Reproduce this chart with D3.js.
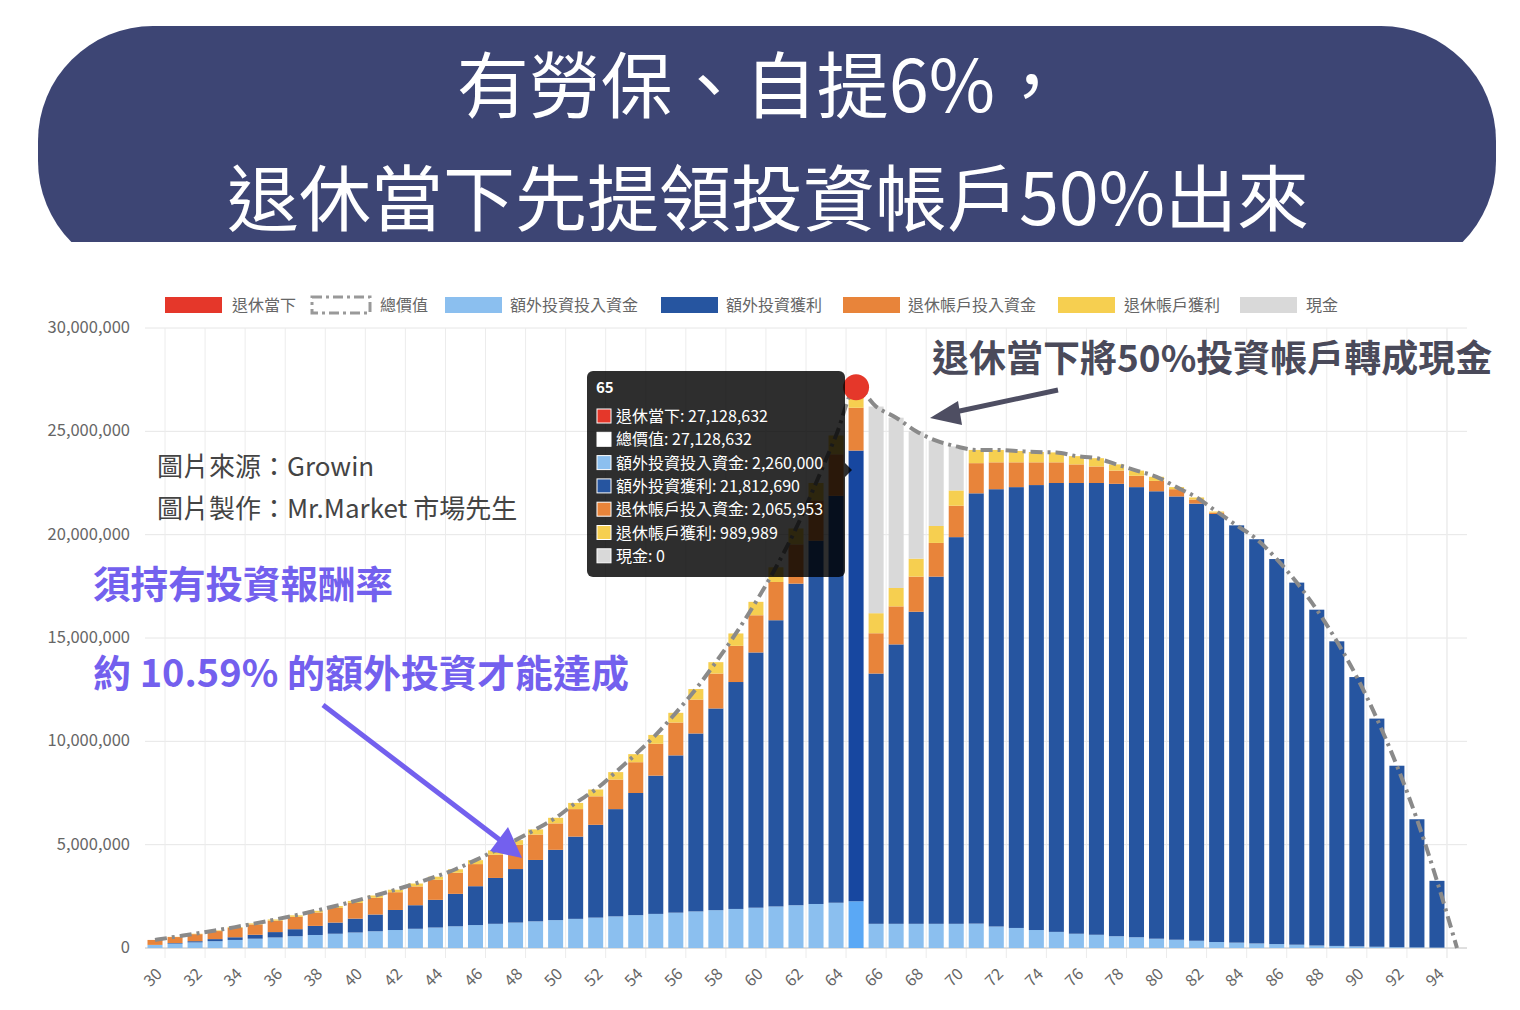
<!DOCTYPE html>
<html><head><meta charset="utf-8">
<script src="https://cdn.jsdelivr.net/npm/d3@7"></script>
<style>body{margin:0;background:#fff}svg{display:block}text{font-family:"Noto Sans CJK TC","Lato",sans-serif}</style>
</head><body><svg id="c" width="1520" height="1010"></svg>
<script>
const ages = d3.range(30, 96);
// values in millions
const extraPrincipal = [0.15,0.21,0.27,0.33,0.39,0.45,0.51,0.57,0.63,0.69,0.75,0.81,0.87,0.93,0.99,1.05,1.11,1.17,1.23,1.29,1.35,1.41,1.47,1.53,1.59,1.65,1.71,1.77,1.83,1.89,1.95,2.01,2.07,2.13,2.19,2.26,
 1.17,1.17,1.17,1.17,1.17,1.18,1.04,0.97,0.87,0.78,0.69,0.64,0.57,0.52,0.45,0.40,0.35,0.29,0.26,0.22,0.19,0.16,0.12,0.10,0.08,0.06,0.04,0.03,0.02,0];
const extraProfit = [0,0.03,0.06,0.10,0.13,0.19,0.26,0.34,0.44,0.54,0.67,0.81,0.97,1.14,1.34,1.57,1.88,2.22,2.59,2.97,3.40,3.98,4.49,5.19,5.91,6.69,7.61,8.61,9.76,10.98,12.35,13.85,15.56,17.58,19.69,21.81,
 12.11,13.52,15.10,16.80,18.71,20.82,21.16,21.33,21.53,21.72,21.81,21.86,21.89,21.78,21.65,21.45,21.15,20.71,20.19,19.56,18.63,17.52,16.25,14.74,13.03,11.04,8.78,6.20,3.23,0];
const retirePrincipal = [0.24,0.29,0.34,0.39,0.45,0.50,0.55,0.60,0.65,0.71,0.76,0.81,0.86,0.91,0.97,1.02,1.07,1.12,1.17,1.23,1.28,1.33,1.38,1.43,1.49,1.54,1.59,1.64,1.69,1.75,1.80,1.85,1.90,1.95,2.01,2.07,
 1.95,1.84,1.70,1.63,1.52,1.46,1.30,1.20,1.10,1.00,0.90,0.80,0.64,0.55,0.50,0.35,0.20,0.07,0,0,0,0,0,0,0,0,0,0,0,0];
const retireProfit = [0,0.01,0.02,0.03,0.04,0.05,0.06,0.07,0.08,0.09,0.10,0.11,0.12,0.14,0.15,0.17,0.19,0.21,0.23,0.25,0.27,0.30,0.33,0.36,0.39,0.43,0.47,0.51,0.55,0.60,0.65,0.71,0.77,0.84,0.91,0.99,
 0.97,0.89,0.87,0.82,0.74,0.64,0.60,0.55,0.50,0.48,0.40,0.40,0.30,0.25,0.20,0.10,0.10,0.05,0,0,0,0,0,0,0,0,0,0,0,0];
const cash = [0,0,0,0,0,0,0,0,0,0,0,0,0,0,0,0,0,0,0,0,0,0,0,0,0,0,0,0,0,0,0,0,0,0,0,0,
 10.0,8.24,6.16,4.13,2.13,0,0,0,0,0,0,0,0,0,0,0,0,0,0,0,0,0,0,0,0,0,0,0,0,0];
const yTicks = [0,5,10,15,20,25,30];
const retireAge = 65;
const tooltipRows = [["退休當下: 27,128,632","#e5372a"],["總價值: 27,128,632","#ffffff"],["額外投資投入資金: 2,260,000","#8bbfef"],["額外投資獲利: 21,812,690","#2655a0"],["退休帳戶投入資金: 2,065,953","#e8843a"],["退休帳戶獲利: 989,989","#f6cf50"],["現金: 0","#d9d9d9"]];

const svg = d3.select("#c");
svg.append("clipPath").attr("id","bc").append("rect").attr("x",0).attr("y",0).attr("width",1520).attr("height",242);
svg.append("rect").attr("clip-path","url(#bc)").attr("x",38).attr("y",26).attr("width",1458).attr("height",250).attr("rx",115).attr("fill","#3d4574");
svg.append("text").attr("x",762).attr("y",112).attr("text-anchor","middle").attr("fill","#fff").attr("font-size",72).text("有勞保、自提6%，");
svg.append("text").attr("x",768).attr("y",225).attr("text-anchor","middle").attr("fill","#fff").attr("font-size",72).text("退休當下先提領投資帳戶50%出來");

const x = d3.scaleBand().domain(ages).range([145,1467]).paddingInner(0.25).paddingOuter(0.125);
const y = d3.scaleLinear().domain([0,30]).range([948,328]);
const g = svg.append("g");
g.selectAll(".hg").data(yTicks).join("line").attr("x1",145).attr("x2",1467).attr("y1",d=>y(d)).attr("y2",d=>y(d)).attr("stroke","#e6e6e6");
g.selectAll(".vg").data(ages.filter(a=>a%2===1).concat([95])).join("line")
 .attr("x1",d=>x(d)-x.step()*0.125).attr("x2",d=>x(d)-x.step()*0.125).attr("y1",328).attr("y2",958).attr("stroke","#ececec");
g.append("line").attr("x1",145).attr("x2",1467).attr("y1",948).attr("y2",948).attr("stroke","#ccc");
g.selectAll(".yl").data(yTicks).join("text").attr("x",130).attr("y",d=>y(d)+5).attr("text-anchor","end").attr("font-size",16.5).attr("fill","#666").attr("font-family","Liberation Sans").text(d=>d3.format(",")(d*1e6));
g.selectAll(".xl").data(ages.filter(a=>a%2===0&&a<95)).join("text")
 .attr("transform",d=>`translate(${x(d)+x.bandwidth()/2+8},${975}) rotate(-45)`).attr("text-anchor","end").attr("font-size",16).attr("fill","#666").attr("font-family","Liberation Sans").text(d=>d);

const series = [extraPrincipal, extraProfit, retirePrincipal, retireProfit, cash];
const colors = ["#8bbfef","#2655a0","#e8843a","#f6cf50","#d9d9d9"];
const hiColors = ["#5aa8f5","#1747a0","#e8843a","#f6cf50","#d9d9d9"];
const rows = ages.map((a,i)=>({age:a, v:series.map(s=>s[i])}));
const stack = d3.stack().keys([0,1,2,3,4]).value((d,k)=>d.v[k])(rows);
stack.forEach((layer,k)=>{
  g.selectAll(null).data(layer).join("rect")
   .attr("x",d=>x(d.data.age)).attr("width",x.bandwidth())
   .attr("y",d=>y(d[1])).attr("height",d=>Math.max(0,y(d[0])-y(d[1])))
   .attr("fill",d=>d.data.age===retireAge?hiColors[k]:colors[k]);
});
const totals = rows.map(r=>({age:r.age,t:d3.sum(r.v)}));
g.append("path").datum(totals).attr("fill","none").attr("stroke","#8a8a8a").attr("stroke-width",4).attr("stroke-dasharray","12,5,3,5")
 .attr("d",d3.line().x(d=>x(d.age)+x.bandwidth()/2).y(d=>y(d.t)).curve(d3.curveMonotoneX));
const r65 = totals.find(d=>d.age===retireAge);
g.append("circle").attr("cx",x(retireAge)+x.bandwidth()/2).attr("cy",y(r65.t)).attr("r",13).attr("fill","#e5372a");

const legend = [["退休當下","#e5372a",165,232],["總價值","dash",312,380],["額外投資投入資金","#8bbfef",445,510],["額外投資獲利","#2655a0",661,726],["退休帳戶投入資金","#e8843a",843,908],["退休帳戶獲利","#f6cf50",1058,1124],["現金","#d9d9d9",1240,1306]];
legend.forEach(([t,c,bx,tx])=>{
  if(c==="dash"){
    svg.append("rect").attr("x",bx).attr("y",297).attr("width",58).attr("height",16).attr("fill","#fff").attr("stroke","#999").attr("stroke-width",3).attr("stroke-dasharray","10,4,3,4");
  } else svg.append("rect").attr("x",bx).attr("y",297).attr("width",57).attr("height",16).attr("fill",c);
  svg.append("text").attr("x",tx).attr("y",311).attr("font-size",16).attr("fill","#666").text(t);
});

svg.append("text").attr("x",157).attr("y",476).attr("font-size",26).attr("fill","#444").text("圖片來源：Growin");
svg.append("text").attr("x",157).attr("y",518).attr("font-size",26).attr("fill","#444").text("圖片製作：Mr.Market 市場先生");
svg.append("text").attr("x",93).attr("y",598).attr("font-size",37.5).attr("font-weight","bold").attr("fill","#7360ee").text("須持有投資報酬率");
svg.append("text").attr("x",93).attr("y",687).attr("font-size",38).attr("font-weight","bold").attr("fill","#7360ee").text("約 10.59% 的額外投資才能達成");
svg.append("line").attr("x1",323).attr("y1",705).attr("x2",500).attr("y2",840).attr("stroke","#7360ee").attr("stroke-width",5);
svg.append("path").attr("d","M522,858 L490,851 L508,827 Z").attr("fill","#7360ee");
svg.append("text").attr("x",932).attr("y",372).attr("font-size",37).attr("font-weight","bold").attr("fill","#4a4a5a").text("退休當下將50%投資帳戶轉成現金");
svg.append("line").attr("x1",1058).attr("y1",390).attr("x2",955).attr("y2",412).attr("stroke","#4e4e62").attr("stroke-width",5);
svg.append("path").attr("d","M930,418 L958,401 L962,425 Z").attr("fill","#4e4e62");

const tt = svg.append("g");
tt.append("rect").attr("x",587).attr("y",371).attr("width",258).attr("height",206).attr("rx",6).attr("fill","rgba(0,0,0,0.82)");
tt.append("path").attr("d","M845,463 L852,470 L845,477 Z").attr("fill","rgba(0,0,0,0.82)");
tt.append("text").attr("x",596).attr("y",393).attr("font-size",15).attr("font-weight","bold").attr("fill","#fff").attr("font-family","Liberation Sans").text("65");
tooltipRows.forEach(([t,c],i)=>{
  const yy = 417 + i*23.3;
  tt.append("rect").attr("x",597).attr("y",yy-8).attr("width",14).attr("height",14).attr("fill",c).attr("stroke","#fff").attr("stroke-width",1);
  tt.append("text").attr("x",616).attr("y",yy+5).attr("font-size",16).attr("fill","#fff").text(t);
});
</script></body></html>
